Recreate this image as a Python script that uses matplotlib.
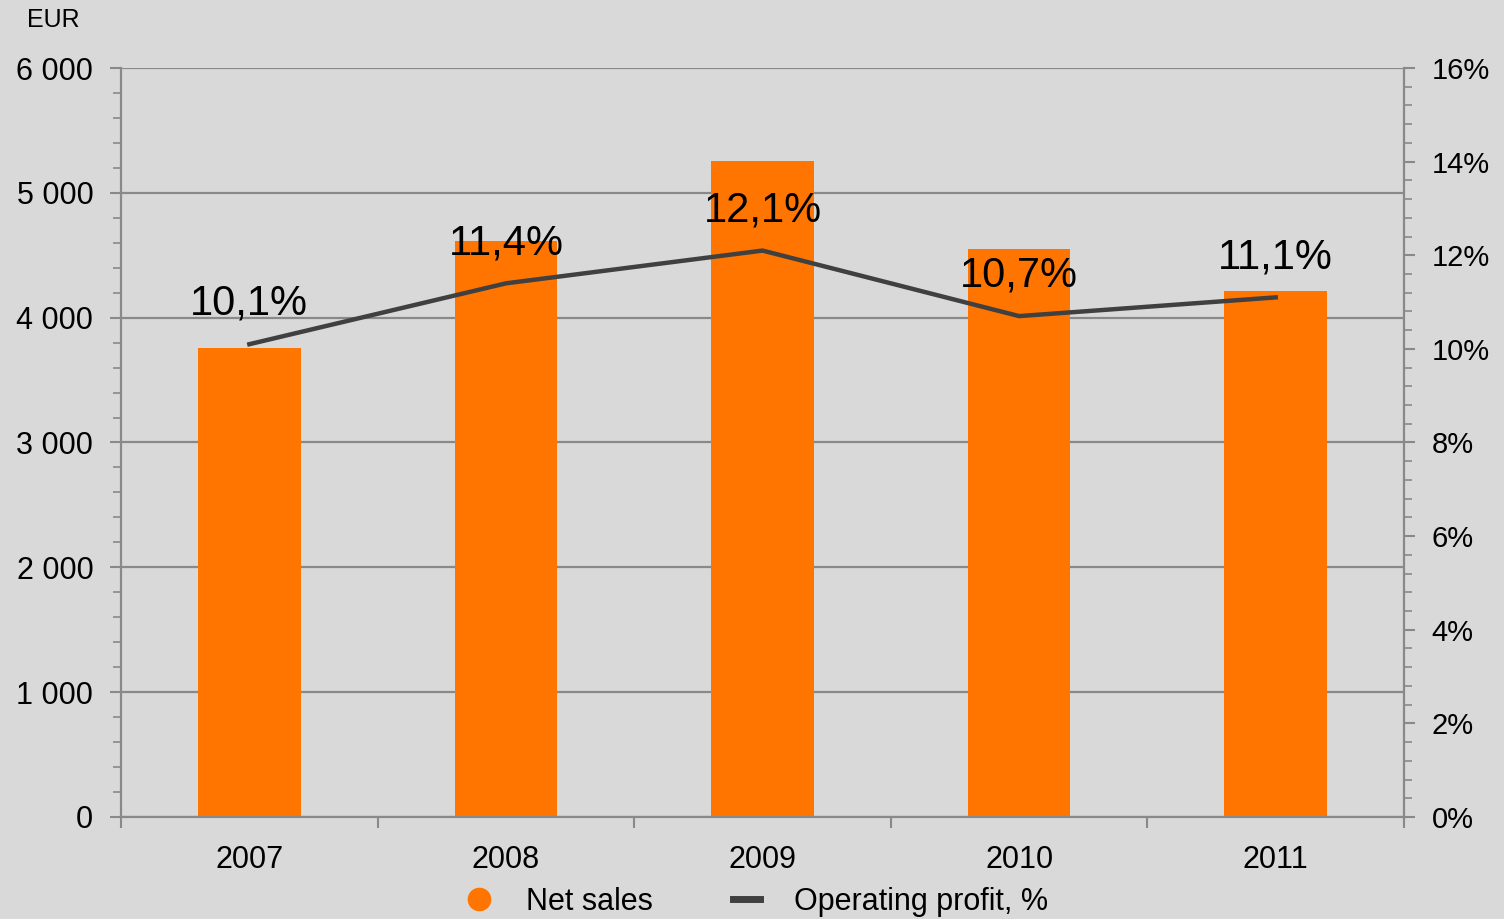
import matplotlib.pyplot as plt
from matplotlib.ticker import MultipleLocator, FuncFormatter
from matplotlib.lines import Line2D

plt.rcParams['font.family'] = ['Liberation Sans', 'DejaVu Sans']

# datos
anios = ['2007', '2008', '2009', '2010', '2011']
ventas = [3760, 4615, 5255, 4550, 4210]
margen = [10.1, 11.4, 12.1, 10.7, 11.1]
etiquetas = ['10,1%', '11,4%', '12,1%', '10,7%', '11,1%']

fondo = '#d9d9d9'
gris = '#898989'
naranja = '#ff7500'
oscuro = '#404040'

fig = plt.figure(figsize=(15.04, 9.19), dpi=100, facecolor=fondo)
ax = fig.add_axes([0.0805, 0.111, 0.853, 0.815], facecolor=fondo)
ax2 = ax.twinx()

x = list(range(len(anios)))
ax.bar(x, ventas, width=0.4, color=naranja, zorder=2)
ax.set_xlim(-0.5, 4.5)
ax.set_ylim(0, 6000)

# rejilla y ejes
ax.yaxis.set_major_locator(MultipleLocator(1000))
ax.yaxis.set_minor_locator(MultipleLocator(200))
ax.yaxis.set_major_formatter(FuncFormatter(lambda v, p: f'{int(v):,}'.replace(',', ' ')))
ax.grid(axis='y', color=gris, lw=1.6, zorder=0)
ax.set_axisbelow(True)

ax.set_xticks([i - 0.5 for i in range(6)])
ax.set_xticklabels([])
ax.set_xticks(x, minor=True)
ax.set_xticklabels(anios, minor=True)
ax.tick_params(axis='x', which='major', length=8, width=1.5, color=gris)
ax.tick_params(axis='x', which='minor', length=0, pad=20, labelsize=22)
ax.tick_params(axis='y', which='major', length=8, width=1.5, color=gris, labelsize=22, pad=12)
ax.tick_params(axis='y', which='minor', length=6, width=1.2, color=gris)

for s in ['top', 'right']:
    ax.spines[s].set_visible(False)
for s in ['left', 'bottom']:
    ax.spines[s].set_color(gris)
    ax.spines[s].set_linewidth(1.6)

# eje derecho en porcentaje
ax2.plot(x, margen, color=oscuro, lw=3.2, zorder=3)
ax2.set_ylim(0, 16)
ax2.yaxis.set_major_locator(MultipleLocator(2))
ax2.yaxis.set_minor_locator(MultipleLocator(0.4))
ax2.yaxis.set_major_formatter(FuncFormatter(lambda v, p: f'{int(v)}%'))
ax2.tick_params(axis='y', which='major', length=8, width=1.5, color=gris, labelsize=21, pad=12)
ax2.tick_params(axis='y', which='minor', length=6, width=1.2, color=gris)
for s in ['top', 'left', 'bottom']:
    ax2.spines[s].set_visible(False)
ax2.spines['right'].set_color(gris)
ax2.spines['right'].set_linewidth(1.6)

for xi, yi, t in zip(x, margen, etiquetas):
    ax2.annotate(t, (xi, yi), xytext=(0, 29), textcoords='offset points',
                 ha='center', va='center', fontsize=30, zorder=4)

fig.text(0.018, 0.978, 'EUR', fontsize=18, ha='left', va='center')

handles = [Line2D([], [], marker='o', ls='none', color=naranja, markersize=16),
           Line2D([], [], color=oscuro, lw=5)]
fig.legend(handles, ['Net sales', 'Operating profit, %'], loc='center',
           bbox_to_anchor=(0.503, 0.019), ncol=2, frameon=False, fontsize=22,
           handlelength=0.9, columnspacing=2.6, handletextpad=1.1)

fig.savefig('out.png', dpi=100, facecolor=fondo)
